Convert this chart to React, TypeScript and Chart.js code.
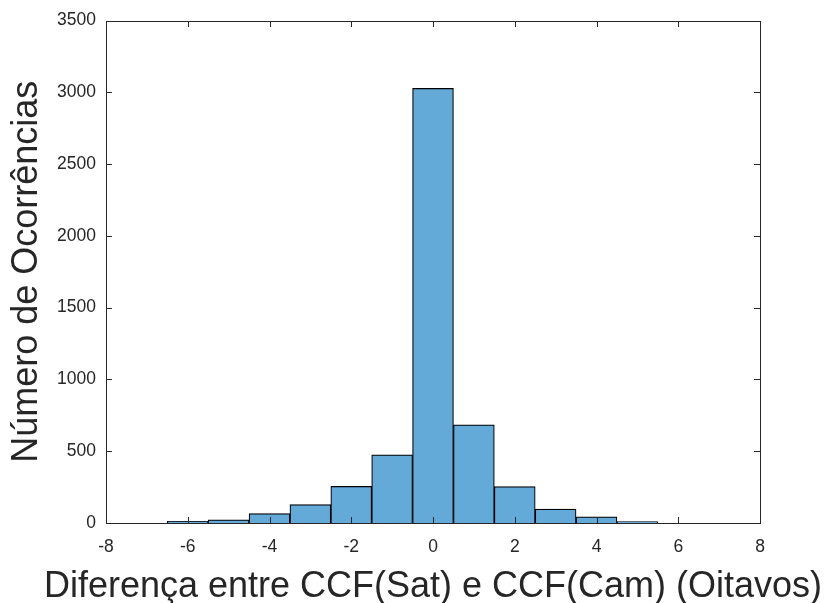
import React, { useEffect, useRef } from "react";
import { Chart, registerables } from "chart.js";

Chart.register(...registerables);

const binCenters = [-6, -5, -4, -3, -2, -1, 0, 1, 2, 3, 4, 5];
const counts = [12, 22, 65, 128, 255, 474, 3027, 684, 253, 97, 43, 10];
const xTickValues = [-8, -6, -4, -2, 0, 2, 4, 6, 8];
const yTickValues = [0, 500, 1000, 1500, 2000, 2500, 3000, 3500];
const xTitle = "Diferença entre CCF(Sat) e CCF(Cam) (Oitavos)";
const yTitle = "Número de Ocorrências";

const AXIS_COLOR = "#262626";
const FONT = "'Liberation Sans', Arial, Helvetica, sans-serif";

const boxPlugin = {
  id: "matlabBox",
  afterDatasetsDraw(chart: any) {
    const { ctx, chartArea, scales } = chart;
    const left = Math.round(chartArea.left);
    const right = Math.round(chartArea.right);
    const top = Math.round(chartArea.top);
    const bottom = Math.round(chartArea.bottom);
    const x = scales.x;
    const y = scales.y;
    const tl = 6;
    ctx.save();
    ctx.fillStyle = AXIS_COLOR;
    x.ticks.forEach((t: any) => {
      const px = Math.round(x.getPixelForValue(t.value));
      ctx.fillRect(px, bottom - tl, 1, tl);
      ctx.fillRect(px, top, 1, tl);
    });
    y.ticks.forEach((t: any) => {
      const py = Math.round(y.getPixelForValue(t.value));
      ctx.fillRect(left, py, tl, 1);
      ctx.fillRect(right - tl, py, tl, 1);
    });
    ctx.fillRect(left, top, right - left + 1, 1);
    ctx.fillRect(left, bottom, right - left + 1, 1);
    ctx.fillRect(left, top, 1, bottom - top + 1);
    ctx.fillRect(right, top, 1, bottom - top + 1);
    // x axis title (drawn here to avoid canvas maxWidth compression)
    ctx.font = `36px ${FONT}`;
    ctx.textAlign = "center";
    ctx.textBaseline = "alphabetic";
    ctx.fillText(xTitle, (chartArea.left + chartArea.right) / 2, 597);
    ctx.restore();
  },
};

export default function App() {
  const ref = useRef<HTMLCanvasElement | null>(null);

  useEffect(() => {
    if (!ref.current) return;
    const chart = new Chart(ref.current, {
      type: "bar",
      data: {
        datasets: [
          {
            data: binCenters.map((c, i) => ({ x: c, y: counts[i] })),
            backgroundColor: "#63aad8",
            borderColor: "#000000",
            borderWidth: 1.2,
            barPercentage: 1,
            categoryPercentage: 1,
          },
        ],
      },
      options: {
        animation: false,
        responsive: false,
        maintainAspectRatio: false,
        layout: { padding: { left: 0, right: 66, top: 20, bottom: 0 } },
        plugins: {
          legend: { display: false },
          tooltip: { enabled: false },
        },
        scales: {
          x: {
            type: "linear",
            offset: false,
            min: -8,
            max: 8,
            afterBuildTicks: (s: any) => {
              s.ticks = xTickValues.map((v) => ({ value: v }));
            },
            afterFit: (s: any) => {
              s.height = 80;
            },
            grid: { display: false, drawTicks: false },
            border: { display: false },
            ticks: {
              padding: 14,
              color: AXIS_COLOR,
              font: { family: FONT, size: 17.5 },
              maxRotation: 0,
              autoSkip: false,
              callback: (v: any) => String(v),
            },
            title: { display: false },
          },
          y: {
            type: "linear",
            min: 0,
            max: 3500,
            afterBuildTicks: (s: any) => {
              s.ticks = yTickValues.map((v) => ({ value: v }));
            },
            afterFit: (s: any) => {
              s.width = 106;
            },
            grid: { display: false, drawTicks: false },
            border: { display: false },
            ticks: {
              padding: 10,
              color: AXIS_COLOR,
              font: { family: FONT, size: 17.5 },
              autoSkip: false,
              callback: (v: any) => String(v),
            },
            title: {
              display: true,
              text: yTitle,
              color: AXIS_COLOR,
              font: { family: FONT, size: 36, lineHeight: 1 },
              padding: { top: 9, bottom: 0 },
            },
          },
        },
      },
      plugins: [boxPlugin],
    });
    return () => chart.destroy();
  }, []);

  return (
    <div style={{ position: "fixed", left: 0, top: 0, width: 826, height: 603, background: "#ffffff" }}>
      <canvas ref={ref} width={826} height={603} style={{ width: 826, height: 603, display: "block" }} />
    </div>
  );
}
